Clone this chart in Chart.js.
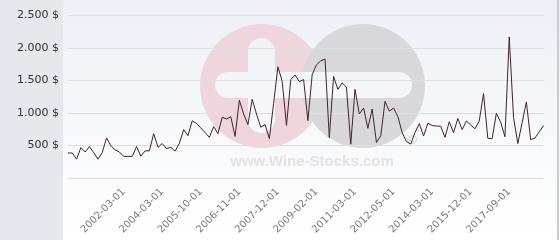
<!DOCTYPE html>
<html>
<head>
<meta charset="utf-8">
<script src="https://cdn.jsdelivr.net/npm/chart.js@4"></script>
<style>
  html, body { margin: 0; padding: 0; background: #ffffff; }
  #wrap { position: relative; width: 560px; height: 240px; }
</style>
</head>
<body>
<div id="wrap"><canvas id="price-chart"></canvas></div>
<script>
(function () {
  'use strict';

  // sale dates (category axis, not time-proportional)
  const dates = [
    '2000-01-01', '2000-03-01', '2000-05-01', '2000-07-01', '2000-09-01', '2000-11-01', '2001-01-01', '2001-03-01',
    '2001-05-01', '2001-07-01', '2001-09-01', '2001-11-01', '2002-01-01', '2002-03-01', '2002-06-01', '2002-09-01',
    '2002-11-01', '2003-02-01', '2003-05-01', '2003-07-01', '2003-10-01', '2003-12-01', '2004-03-01', '2004-05-01',
    '2004-07-01', '2004-09-01', '2004-11-01', '2005-01-01', '2005-03-01', '2005-06-01', '2005-08-01', '2005-10-01',
    '2005-11-01', '2006-01-01', '2006-02-01', '2006-04-01', '2006-05-01', '2006-07-01', '2006-08-01', '2006-10-01',
    '2006-11-01', '2006-12-01', '2007-02-01', '2007-03-01', '2007-05-01', '2007-06-01', '2007-08-01', '2007-09-01',
    '2007-11-01', '2007-12-01', '2008-02-01', '2008-03-01', '2008-05-01', '2008-06-01', '2008-08-01', '2008-09-01',
    '2008-11-01', '2009-01-01', '2009-02-01', '2009-05-01', '2009-08-01', '2009-11-01', '2010-01-01', '2010-04-01',
    '2010-07-01', '2010-10-01', '2010-12-01', '2011-03-01', '2011-05-01', '2011-06-01', '2011-08-01', '2011-09-01',
    '2011-11-01', '2012-01-01', '2012-02-01', '2012-04-01', '2012-05-01', '2012-08-01', '2012-10-01', '2013-01-01',
    '2013-03-01', '2013-06-01', '2013-08-01', '2013-10-01', '2014-01-01', '2014-03-01', '2014-05-01', '2014-08-01',
    '2014-10-01', '2015-01-01', '2015-03-01', '2015-05-01', '2015-08-01', '2015-10-01', '2015-12-01', '2016-02-01',
    '2016-05-01', '2016-07-01', '2016-10-01', '2016-12-01', '2017-02-01', '2017-05-01', '2017-07-01', '2017-09-01',
    '2017-11-01', '2018-01-01', '2018-03-01', '2018-05-01', '2018-07-01', '2018-09-01', '2018-11-01', '2019-01-01'
  ];

  // price in $
  const prices = [
    385, 385, 290, 467, 400, 484, 390, 290, 393, 618,
    497, 434, 400, 333, 333, 333, 484, 336, 418, 418,
    682, 474, 530, 452, 472, 414, 535, 745, 650, 880,
    840, 770, 700, 625, 792, 682, 934, 909, 944, 641,
    1197, 985, 823, 1212, 985, 782, 823, 606, 1150, 1712,
    1489, 808, 1515, 1585, 1485, 1515, 883, 1591, 1742, 1803,
    1833, 621, 1565, 1364, 1464, 1398, 520, 1364, 985, 1076,
    765, 1061, 548, 648, 1180, 1030, 1076, 945, 700, 560,
    522, 700, 838, 648, 843, 808, 800, 797, 626, 865,
    698, 916, 745, 878, 815, 758, 878, 1300, 610, 605,
    997, 858, 636, 2171, 934, 530, 850, 1171, 591, 615,
    710, 808
  ];

  // dates that carry a visible tick label
  const shownDates = [
    '2002-03-01', '2004-03-01', '2005-10-01', '2006-11-01', '2007-12-01', '2009-02-01',
    '2011-03-01', '2012-05-01', '2014-03-01', '2015-12-01', '2017-09-01'
  ];

  const yTicks = [0, 500, 1000, 1500, 2000, 2500];

  function formatDollars(v) {
    if (v === 0) return '';
    const s = v >= 1000
      ? Math.floor(v / 1000) + '.' + String(v % 1000).padStart(3, '0')
      : String(v);
    return s + ' $';
  }

  function bgGradient(ctx) {
    const g = ctx.createLinearGradient(0, 0, 0, 240);
    g.addColorStop(0, '#eef0f6');
    g.addColorStop(1, '#ffffff');
    return g;
  }

  // capsule shape, works for both horizontal and vertical bars
  function capsule(ctx, x, y, w, h) {
    const r = Math.min(w, h) / 2;
    ctx.beginPath();
    if (w >= h) {
      ctx.arc(x + r, y + r, r, Math.PI / 2, Math.PI * 1.5);
      ctx.arc(x + w - r, y + r, r, -Math.PI / 2, Math.PI / 2);
    } else {
      ctx.arc(x + r, y + r, r, Math.PI, 0);
      ctx.arc(x + r, y + h - r, r, 0, Math.PI);
    }
    ctx.closePath();
    ctx.fill();
  }

  // panel backgrounds + faded watermark, painted under the grid
  const backdrop = {
    id: 'backdrop',
    beforeDraw: function (chart) {
      const ctx = chart.ctx;
      const w = chart.width, h = chart.height;
      ctx.save();
      const bg = bgGradient(ctx);
      ctx.fillStyle = bg;
      ctx.fillRect(0, 0, w, h);
      ctx.fillStyle = '#e5e9ed';
      ctx.fillRect(0, 0, 63, h);
      ctx.fillStyle = '#c9ccd1';
      ctx.fillRect(557, 0, 2, h);

      // logo
      ctx.fillStyle = '#efd6dc';
      ctx.beginPath();
      ctx.arc(262, 86, 62, 0, Math.PI * 2);
      ctx.fill();
      ctx.fillStyle = '#d8d8da';
      ctx.beginPath();
      ctx.arc(363, 86, 62, 0, Math.PI * 2);
      ctx.fill();
      ctx.fillStyle = bg;
      capsule(ctx, 215, 72, 197, 26);
      capsule(ctx, 248, 38, 27, 95);
      ctx.fillStyle = '#e3e3e6';
      ctx.font = 'bold 15px "Liberation Sans", Arial, sans-serif';
      ctx.textAlign = 'center';
      ctx.textBaseline = 'alphabetic';
      ctx.fillText('www.Wine-Stocks.com', 312, 166);
      ctx.fillStyle = '#cfcfd2';
      ctx.font = '13px "DejaVu Sans", sans-serif';
      ctx.fillText('\u00a9', 412, 144);
      ctx.restore();
    }
  };

  const canvas = document.getElementById('price-chart');
  new Chart(canvas.getContext('2d'), {
    type: 'line',
    data: {
      labels: dates,
      datasets: [{
        label: 'Price',
        data: prices,
        borderColor: '#3e2330',
        borderWidth: 1,
        pointRadius: 0,
        tension: 0,
        fill: false
      }]
    },
    options: {
      responsive: true,
      maintainAspectRatio: false,
      devicePixelRatio: 1,
      animation: false,
      layout: { padding: { left: 0, right: 5, top: 13, bottom: 0 } },
      plugins: { legend: { display: false }, tooltip: { enabled: false } },
      scales: {
        x: {
          offset: false,
          grid: { display: false, drawTicks: false },
          border: { display: false },
          afterFit: function (scale) { scale.height = 62; },
          ticks: {
            autoSkip: false,
            minRotation: 45,
            maxRotation: 45,
            padding: 8,
            color: '#7a7a7a',
            font: { family: '"DejaVu Sans", sans-serif', size: 10 },
            callback: function (value, index) {
              const d = dates[index];
              return shownDates.indexOf(d) >= 0 ? d : '';
            }
          }
        },
        y: {
          min: 0,
          max: 2500,
          afterFit: function (scale) { scale.width = 68; },
          afterBuildTicks: function (scale) {
            scale.ticks = yTicks.map(function (v) { return { value: v }; });
          },
          grid: { color: '#dedfe3', lineWidth: 1, drawTicks: false },
          border: { display: false },
          ticks: {
            padding: 9,
            color: '#333333',
            font: { family: '"DejaVu Sans", sans-serif', size: 11 },
            callback: function (value) { return formatDollars(value); }
          }
        }
      }
    },
    plugins: [backdrop]
  });
})();
</script>
</body>
</html>
